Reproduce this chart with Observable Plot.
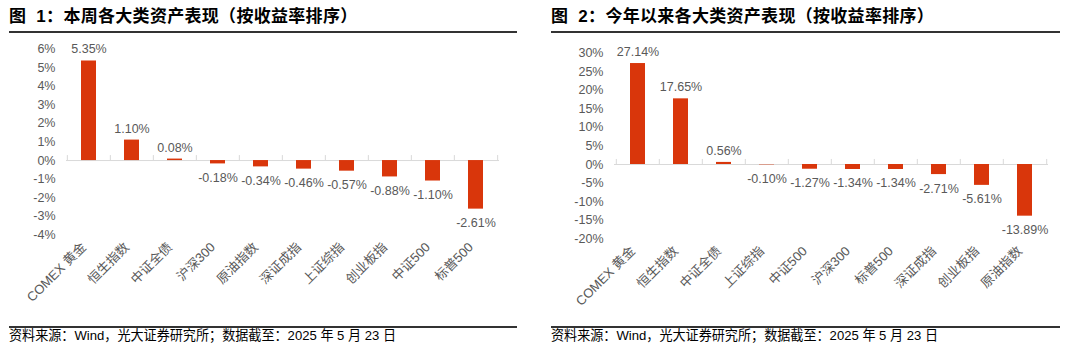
<!DOCTYPE html>
<html>
<head>
<meta charset="utf-8">
<script src="https://cdn.jsdelivr.net/npm/d3@7"></script>
<script src="https://cdn.jsdelivr.net/npm/@observablehq/plot@0.6"></script>
<style>
  body { margin: 0; background: #fff; width: 1080px; height: 352px; overflow: hidden; position: relative;
         font-family: "Liberation Sans", "Noto Sans CJK SC", sans-serif; }
  .panel { position: absolute; top: 0; width: 540px; height: 352px; }
  .title { position: absolute; top: 6px; font-size: 17px; font-weight: bold; color: #000; white-space: nowrap; line-height: 22px;
           letter-spacing: 0.3px; font-family: "Liberation Sans", "Noto Sans CJK SC", sans-serif; }
  .rule { position: absolute; height: 2px; background: #333; }
  .foot { position: absolute; top: 328px; font-size: 13.1px; color: #000; white-space: nowrap; line-height: 16px; }
  .chart { position: absolute; top: 40px; left: 0; }
  .chart svg { overflow: visible; }
</style>
</head>
<body>
<div class="panel" id="p1" style="left:0">
  <div class="title" style="left:9px">图&nbsp;&nbsp;1：本周各大类资产表现（按收益率排序）</div>
  <div class="rule" style="left:9px; width:508px; top:31px"></div>
  <div class="chart" id="c1"></div>
  <div class="rule" style="left:9px; width:508px; top:326px"></div>
  <div class="foot" style="left:9px">资料来源：Wind，光大证券研究所；数据截至：2025 年 5 月 23 日</div>
</div>
<div class="panel" id="p2" style="left:540px">
  <div class="title" style="left:11px">图&nbsp;&nbsp;2：今年以来各大类资产表现（按收益率排序）</div>
  <div class="rule" style="left:11px; width:509px; top:31px"></div>
  <div class="chart" id="c2"></div>
  <div class="rule" style="left:11px; width:509px; top:326px"></div>
  <div class="foot" style="left:11px">资料来源：Wind，光大证券研究所；数据截至：2025 年 5 月 23 日</div>
</div>
<script>
// ---- data ----
const weekCategories = ["COMEX 黄金","恒生指数","中证全债","沪深300","原油指数","深证成指","上证综指","创业板指","中证500","标普500"];
const weekValues = [5.35, 1.10, 0.08, -0.18, -0.34, -0.46, -0.57, -0.88, -1.10, -2.61];
const weekTicks = [-4, -3, -2, -1, 0, 1, 2, 3, 4, 5, 6];

const ytdCategories = ["COMEX 黄金","恒生指数","中证全债","上证综指","中证500","沪深300","标普500","深证成指","创业板指","原油指数"];
const ytdValues = [27.14, 17.65, 0.56, -0.10, -1.27, -1.34, -1.34, -2.71, -5.61, -13.89];
const ytdTicks = [-20, -15, -10, -5, 0, 5, 10, 15, 20, 25, 30];

const BAR = "#d9360b";
const GRAY = "#595959";

function drawChart(cats, vals, ticks, opt) {
  const data = cats.map((c, i) => ({cat: c, v: vals[i]}));
  const W = 540, H = 280;
  const step = (W - opt.ml - opt.mr) / cats.length;
  const tickLen = opt.tickLen;
  return Plot.plot({
    width: W, height: H,
    marginLeft: opt.ml, marginRight: opt.mr, marginTop: opt.mt, marginBottom: H - opt.mb,
    style: {fontFamily: '"Liberation Sans", "Noto Sans CJK SC", sans-serif', fontSize: "12px", color: GRAY, background: "transparent"},
    x: {domain: cats, paddingInner: 0.65, paddingOuter: 0.325, align: 0.5, label: null},
    y: {domain: [ticks[0], ticks[ticks.length - 1]], label: null},
    marks: [
      Plot.axisY({ticks: ticks, tickSize: 0, tickPadding: 11, tickFormat: d => d + "%", fill: GRAY, fontSize: 12.5}),
      Plot.axisX({tickSize: 0, tickRotate: -45, tickPadding: 10, dx: -5, fill: GRAY, fontSize: 13}),
      Plot.ruleY([0], {stroke: "#d9d9d9", strokeWidth: 1}),
      Plot.ruleX(cats, {x: d => d, y1: 0, y2: tickLen, dx: -step / 2, stroke: "#d9d9d9"}),
      Plot.ruleX([cats[cats.length - 1]], {x: d => d, y1: 0, y2: tickLen, dx: step / 2, stroke: "#d9d9d9"}),
      Plot.barY(data, {x: "cat", y: "v", fill: BAR}),
      Plot.text(data.filter(d => d.v >= 0), {x: "cat", y: "v", text: d => d.v.toFixed(2) + "%", dy: -11.5, fill: GRAY, fontSize: 12.5}),
      Plot.text(data.filter(d => d.v < 0), {x: "cat", y: "v", text: d => d.v.toFixed(2) + "%", dy: 14, fill: GRAY, fontSize: 12.5})
    ]
  });
}

document.getElementById("c1").appendChild(
  drawChart(weekCategories, weekValues, weekTicks, {ml: 66, mr: 41, mt: 8.4, mb: 194.5, tickLen: 0.27})
);
document.getElementById("c2").appendChild(
  drawChart(ytdCategories, ytdValues, ytdTicks, {ml: 74, mr: 32, mt: 12.4, mb: 198.4, tickLen: 1.35})
);
</script>
</body>
</html>
